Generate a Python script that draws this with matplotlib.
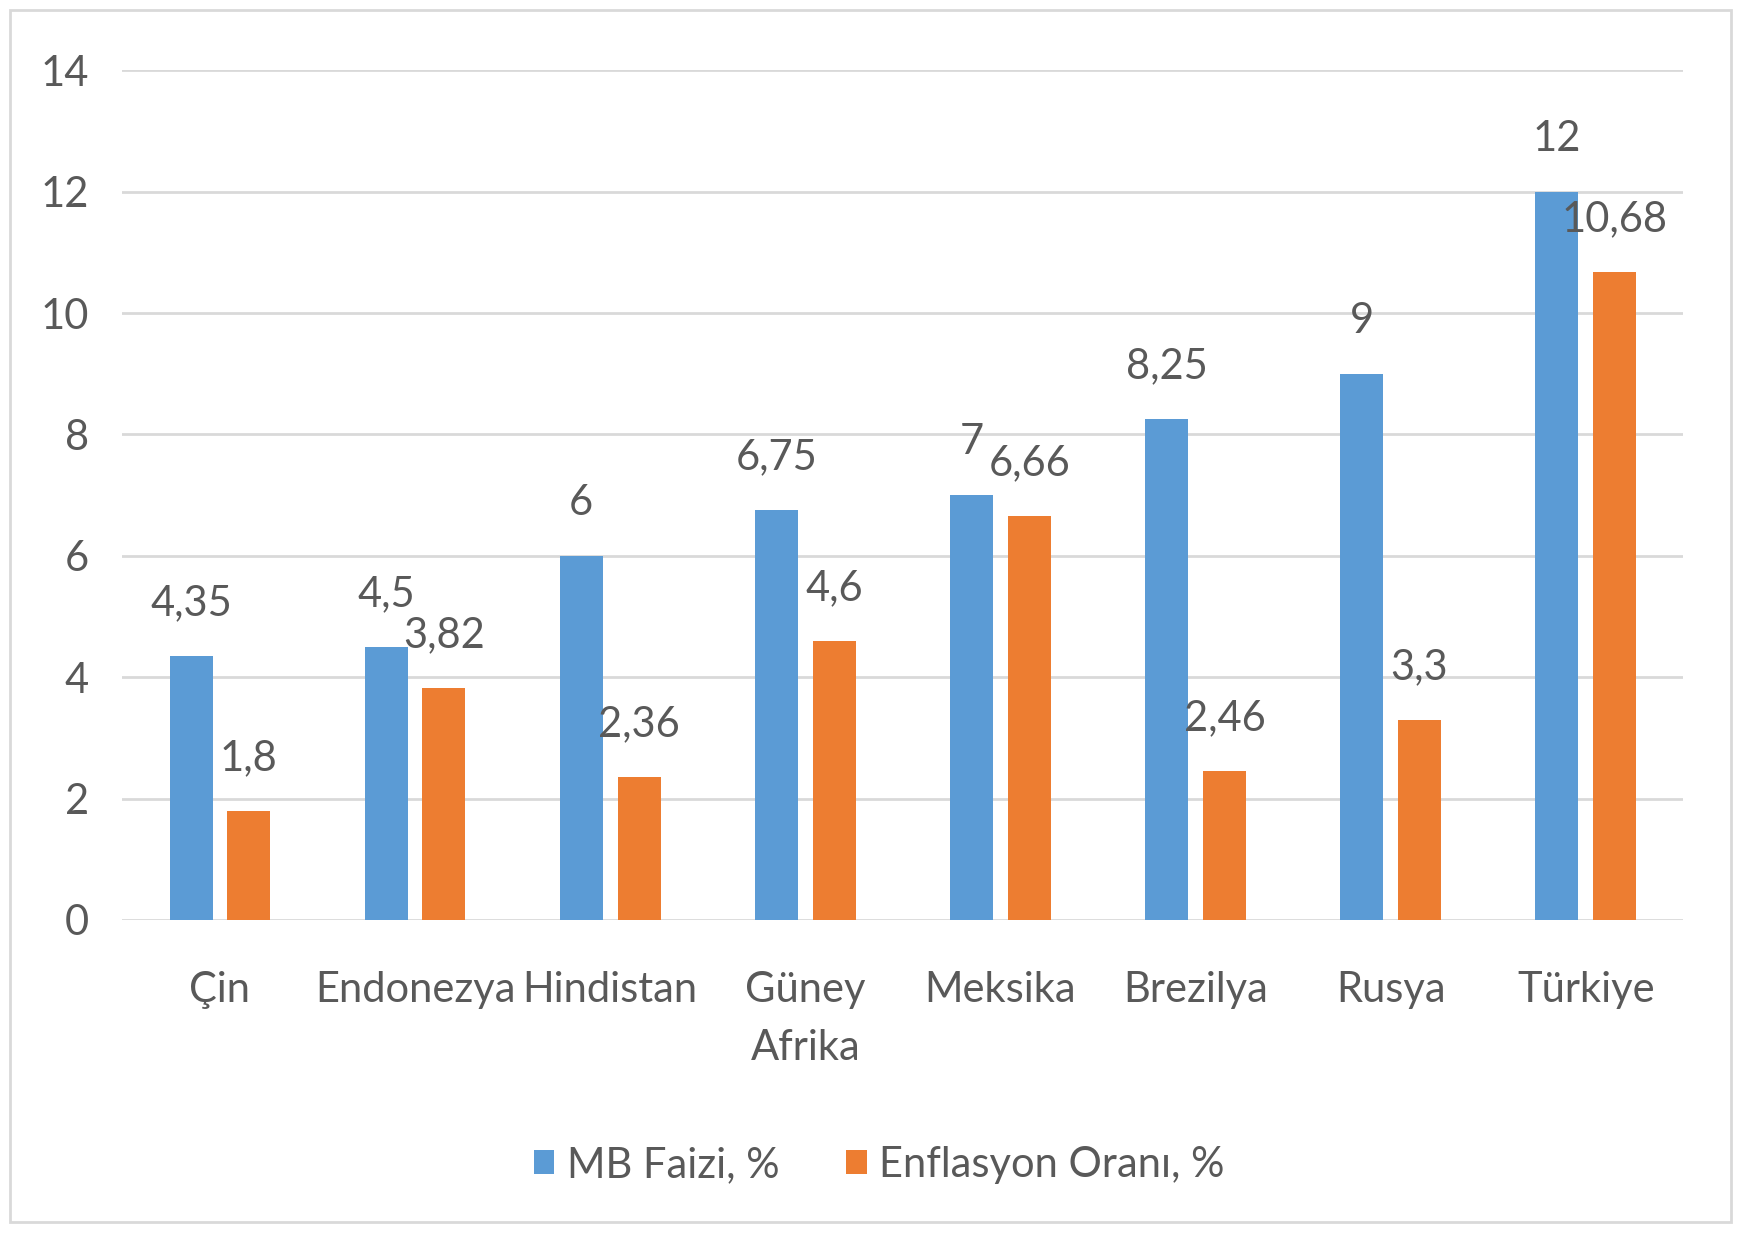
import matplotlib.pyplot as plt
import numpy as np
from matplotlib.patches import Rectangle

# data
countries = ['Çin', 'Endonezya', 'Hindistan', 'Güney\nAfrika', 'Meksika', 'Brezilya', 'Rusya', 'Türkiye']
mb_faizi = [4.35, 4.5, 6, 6.75, 7, 8.25, 9, 12]
enflasyon = [1.8, 3.82, 2.36, 4.6, 6.66, 2.46, 3.3, 10.68]
yticks = [0, 2, 4, 6, 8, 10, 12, 14]

blue = '#5b9bd5'
orange = '#ed7d31'
txt = '#595959'
grid = '#d9d9d9'
fs = 30

plt.rcParams['font.family'] = ['Lato', 'DejaVu Sans']

fig = plt.figure(figsize=(17.48, 12.44), dpi=100)
ax = fig.add_axes([0.070, 0.2605, 0.893, 0.683])

x = np.arange(len(countries))
w = 0.22
off = 0.148
b1 = ax.bar(x - off, mb_faizi, w, color=blue, label='MB Faizi, %', zorder=3)
b2 = ax.bar(x + off, enflasyon, w, color=orange, label='Enflasyon Oranı, %', zorder=3)

def fmt(v):
    s = ('%g' % v).replace('.', ',')
    return s

for bars, vals in [(b1, mb_faizi), (b2, enflasyon)]:
    for b, v in zip(bars, vals):
        ax.annotate(fmt(v), (b.get_x() + b.get_width() / 2, v), xytext=(0, 38),
                    textcoords='offset points', ha='center', va='center',
                    fontsize=fs, color=txt, zorder=4)

ax.set_xlim(-0.5, len(countries) - 0.5)
ax.set_ylim(0, 14)
ax.set_yticks(yticks)
ax.set_yticklabels([str(t) for t in yticks])
ax.set_xticks(x)
ax.set_xticklabels(countries, linespacing=1.65, va='top')
ax.tick_params(axis='y', length=0, pad=24, labelsize=fs, labelcolor=txt)
ax.tick_params(axis='x', length=0, pad=37, labelsize=fs, labelcolor=txt)
ax.yaxis.grid(True, color=grid, linewidth=2, zorder=0)
ax.set_axisbelow(True)
for s in ax.spines.values():
    s.set_visible(False)

fig.legend(loc='center', bbox_to_anchor=(0.503, 0.0635), ncol=2, frameon=False,
           fontsize=fs, labelcolor=txt, handlelength=0.5, handleheight=0.5,
           handletextpad=0.3, columnspacing=1.6)

fig.patches.append(Rectangle((10 / 1748, 1 - 1222 / 1244), 1721 / 1748, 1212 / 1244,
                             transform=fig.transFigure, fill=False,
                             edgecolor='#d9d9d9', linewidth=2))

fig.savefig('out.png', dpi=100)
